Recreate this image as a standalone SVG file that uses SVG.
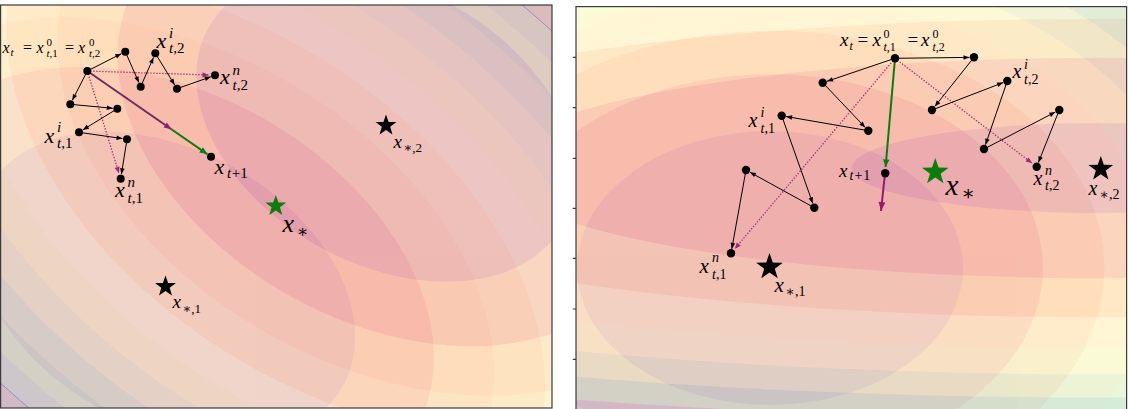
<svg xmlns="http://www.w3.org/2000/svg" xmlns:xlink="http://www.w3.org/1999/xlink" width="1128" height="409" viewBox="0 0 1128 409">
<defs>
<style>
.fr{fill:none;stroke:#3a3a3a;stroke-width:1.2}
.blk{stroke:#000;stroke-width:1;fill:none;marker-end:url(#ab)}
.dt{stroke:#9a2777;stroke-width:1.3;stroke-dasharray:1.3 1.7;fill:none;marker-end:url(#am)}
.mi{font-family:"Liberation Serif","DejaVu Serif",serif;font-style:italic;fill:#000}
.up{font-style:normal}
.ast{font-family:"DejaVu Serif",serif;font-style:normal}
.fam{opacity:0.25}
</style>
<clipPath id="cL"><rect x="0.6" y="5" width="551.4" height="403"/></clipPath>
<clipPath id="cR"><rect x="576" y="6.6" width="550.6" height="403"/></clipPath>
<marker id="ab" viewBox="-7 -4 8 8" markerWidth="8" markerHeight="8" refX="0" refY="0" orient="auto" markerUnits="userSpaceOnUse"><path d="M0,0 L-6,-2.3 L-6,2.3 Z" fill="#000"/></marker>
<marker id="am" viewBox="-7 -4 8 8" markerWidth="8" markerHeight="8" refX="0" refY="0" orient="auto" markerUnits="userSpaceOnUse"><path d="M0,0 L-6,-2.6 L-6,2.6 Z" fill="#9a2777"/></marker>
<marker id="ap" viewBox="-9 -5 10 10" markerWidth="10" markerHeight="10" refX="0" refY="0" orient="auto" markerUnits="userSpaceOnUse"><path d="M0,0 L-7.5,-3 L-7.5,3 Z" fill="#8a2470"/></marker>
<marker id="ag" viewBox="-9 -5 10 10" markerWidth="10" markerHeight="10" refX="0" refY="0" orient="auto" markerUnits="userSpaceOnUse"><path d="M0,0 L-7.5,-3.2 L-7.5,3.2 Z" fill="#0a7d0a"/></marker>
<marker id="amr" viewBox="-11 -5 12 10" markerWidth="12" markerHeight="10" refX="0" refY="0" orient="auto" markerUnits="userSpaceOnUse"><path d="M0,0 L-9,-3.4 L-9,3.4 Z" fill="#961a6d"/></marker>
<path id="star" d="M0,-1 L0.2351,-0.3236 L0.9511,-0.309 L0.3804,0.1236 L0.5878,0.809 L0,0.4 L-0.5878,0.809 L-0.3804,0.1236 L-0.9511,-0.309 L-0.2351,-0.3236 Z"/>
<g id="ringsL" transform="rotate(29)">
<ellipse rx="641.9" ry="436.4" fill="#4a94b8"/>
<ellipse rx="609" ry="414" fill="#66bcaa"/>
<ellipse rx="574.2" ry="390.3" fill="#94d2a6"/>
<ellipse rx="537.1" ry="365.1" fill="#c2e6a2"/>
<ellipse rx="497.2" ry="338" fill="#e8f6a0"/>
<ellipse rx="453.9" ry="308.6" fill="#f8fbb8"/>
<ellipse rx="406" ry="276" fill="#fdd282"/>
<ellipse rx="351.6" ry="239" fill="#fdb466"/>
<ellipse rx="287.1" ry="195.2" fill="#f06744"/>
<ellipse rx="203" ry="138" fill="#c02749"/>
</g>
<g id="ringsR1">
<ellipse rx="510.6" ry="362.5" fill="#60bba8"/>
<ellipse rx="472.7" ry="335.6" fill="#b2e0a2"/>
<ellipse rx="431.6" ry="306.3" fill="#eff9a7"/>
<ellipse rx="386" ry="274" fill="#feec9f"/>
<ellipse rx="334.3" ry="237.3" fill="#fdb466"/>
<ellipse rx="272.9" ry="193.7" fill="#f06744"/>
<ellipse rx="193" ry="137" fill="#c02749"/>
</g>
<g id="ringsR2">
<ellipse rx="1380.8" ry="250.6" fill="#60bba8"/>
<ellipse rx="1264.6" ry="229.5" fill="#b2e0a2"/>
<ellipse rx="1136.5" ry="206.2" fill="#eff9a7"/>
<ellipse rx="992" ry="180" fill="#feec9f"/>
<ellipse rx="822.6" ry="149.3" fill="#fdb466"/>
<ellipse rx="607.4" ry="110.2" fill="#f06744"/>
<ellipse rx="248" ry="45" fill="#c02749"/>
</g>
</defs>

<!-- left panel background -->
<g id="bgL" clip-path="url(#cL)">
<rect x="0" y="0" width="556" height="409" fill="#fff"/>
<g class="fam"><rect x="0" y="0" width="556" height="409" fill="#5a5fa8"/><use xlink:href="#ringsL" transform="translate(165.5 287.3)"/></g>
<g class="fam"><rect x="0" y="0" width="556" height="409" fill="#5a5fa8"/><use xlink:href="#ringsL" transform="translate(386 126)"/></g>
<g fill="none" stroke="#7b6cc4" stroke-width="0.8" opacity="0.7">
<ellipse rx="641.9" ry="436.4" transform="translate(165.5 287.3) rotate(29)"/>
<ellipse rx="641.9" ry="436.4" transform="translate(386 126) rotate(29)"/>
</g>
</g>
<rect class="fr" x="0.6" y="5" width="551.4" height="403"/>

<!-- right panel background -->
<g id="bgR" clip-path="url(#cR)">
<rect x="576" y="0" width="552" height="409" fill="#fff"/>
<g class="fam"><rect x="576" y="0" width="552" height="409" fill="#4a6cb0"/><use xlink:href="#ringsR1" transform="translate(770 268)"/></g>
<g class="fam"><rect x="576" y="0" width="552" height="409" fill="#5a58a6"/><use xlink:href="#ringsR2" transform="translate(1100 168)"/></g>
</g>
<rect class="fr" x="576" y="6.6" width="550.6" height="410"/>
<path class="fr" d="M572.8 57.3H576M572.8 107.7H576M572.8 158.3H576M572.8 208.3H576M572.8 258.3H576M572.8 309H576M572.8 359.3H576"/>

<!-- connectors -->
<g id="connectors">
<line class="dt" x1="87.3" y1="71" x2="208.5" y2="75"/>
<line class="dt" x1="87.3" y1="71" x2="118.9" y2="173"/>
<line class="blk" x1="87.3" y1="71" x2="121.3" y2="53.7"/>
<line class="blk" x1="125.3" y1="51.7" x2="138.9" y2="82.6"/>
<line class="blk" x1="140.7" y1="86.7" x2="153.5" y2="57.4"/>
<line class="blk" x1="155.3" y1="53.3" x2="174.6" y2="84.9"/>
<line class="blk" x1="177" y1="88.7" x2="210.8" y2="76.8"/>
<line class="blk" x1="87.3" y1="71" x2="72.3" y2="100.3"/>
<line class="blk" x1="70.3" y1="104.3" x2="112.8" y2="108.3"/>
<line class="blk" x1="117.3" y1="108.7" x2="82.8" y2="129.9"/>
<line class="blk" x1="79" y1="132.3" x2="122.5" y2="138.6"/>
<line class="blk" x1="127" y1="139.3" x2="121.4" y2="174.3"/>
<line x1="87.3" y1="71" x2="171.4" y2="129.3" stroke="#6e2a5c" stroke-width="2" marker-end="url(#ap)"/>
<line x1="171.4" y1="129.3" x2="207.3" y2="154.1" stroke="#0a7d0a" stroke-width="2" marker-end="url(#ag)"/>
<line class="dt" x1="895" y1="58.3" x2="734.9" y2="248.7"/>
<line class="dt" x1="895" y1="58.3" x2="1031.9" y2="163.1"/>
<line class="blk" x1="895" y1="58.3" x2="969.5" y2="57.4"/>
<line class="blk" x1="974" y1="57.3" x2="934.8" y2="106.5"/>
<line class="blk" x1="932" y1="110" x2="1003.1" y2="82.6"/>
<line class="blk" x1="1007.3" y1="81" x2="985.5" y2="144.7"/>
<line class="blk" x1="984" y1="149" x2="1055.3" y2="112.1"/>
<line class="blk" x1="1059.3" y1="110" x2="1038.4" y2="162.5"/>
<line class="blk" x1="895" y1="58.3" x2="827" y2="81.3"/>
<line class="blk" x1="822.7" y1="82.7" x2="865.2" y2="127.4"/>
<line class="blk" x1="868.3" y1="130.7" x2="786.1" y2="116.5"/>
<line class="blk" x1="781.7" y1="115.7" x2="812.8" y2="203.5"/>
<line class="blk" x1="814.3" y1="207.7" x2="749.9" y2="172.2"/>
<line class="blk" x1="746" y1="170" x2="731.8" y2="248.9"/>
<line x1="895" y1="58.3" x2="885.6" y2="167" stroke="#0a7d0a" stroke-width="2" marker-end="url(#ag)"/>
<line x1="885" y1="173.3" x2="881" y2="211" stroke="#961a6d" stroke-width="2" marker-end="url(#amr)"/>
</g>

<!-- left panel nodes -->
<g id="L-xt"><circle cx="87.3" cy="71" r="4"/>
<text class="mi" font-size="16"><tspan x="2.5" y="52.5">x</tspan><tspan x="10.5" y="55.5" font-size="11">t</tspan><tspan class="up" x="23" y="52.5">=</tspan><tspan x="36.5" y="52.5">x</tspan><tspan class="up" x="46.5" y="45.5" font-size="11">0</tspan><tspan x="46.5" y="57" font-size="11">t<tspan class="up">,1</tspan></tspan><tspan class="up" x="65" y="52.5">=</tspan><tspan x="78" y="52.5">x</tspan><tspan class="up" x="89" y="45.5" font-size="11">0</tspan><tspan x="89" y="57" font-size="11">t<tspan class="up">,2</tspan></tspan></text></g>
<g id="L-a"><circle cx="125.3" cy="51.7" r="4"/></g>
<g id="L-b"><circle cx="140.7" cy="86.7" r="4"/></g>
<g id="L-xi2"><circle cx="155.3" cy="53.3" r="4"/>
<text class="mi" font-size="22"><tspan x="156.5" y="48">x</tspan><tspan x="169" y="37.5" font-size="15">i</tspan><tspan x="169" y="53" font-size="15">t<tspan class="up">,2</tspan></tspan></text></g>
<g id="L-d"><circle cx="177" cy="88.7" r="4"/></g>
<g id="L-xn2"><circle cx="215" cy="75.3" r="4"/>
<text class="mi" font-size="22"><tspan x="220" y="84">x</tspan><tspan x="232.5" y="74.5" font-size="15">n</tspan><tspan x="232.5" y="90" font-size="15">t<tspan class="up">,2</tspan></tspan></text></g>
<g id="L-f"><circle cx="70.3" cy="104.3" r="4"/></g>
<g id="L-g"><circle cx="117.3" cy="108.7" r="4"/></g>
<g id="L-xi1"><circle cx="79" cy="132.3" r="4"/>
<text class="mi" font-size="22"><tspan x="44.5" y="142.5">x</tspan><tspan x="57" y="132" font-size="15">i</tspan><tspan x="57" y="148" font-size="15">t<tspan class="up">,1</tspan></tspan></text></g>
<g id="L-i"><circle cx="127" cy="139.3" r="4"/></g>
<g id="L-xn1"><circle cx="120.7" cy="178.7" r="4"/>
<text class="mi" font-size="22"><tspan x="115" y="196.5">x</tspan><tspan x="127.5" y="187" font-size="15">n</tspan><tspan x="127.5" y="202.5" font-size="15">t<tspan class="up">,1</tspan></tspan></text></g>
<g id="L-xt1"><circle cx="211" cy="156.7" r="4"/>
<text class="mi" font-size="22"><tspan x="214.5" y="174">x</tspan><tspan x="227" y="178" font-size="15">t<tspan class="up" dx="0.5">+1</tspan></tspan></text></g>
<g id="L-xstar"><use xlink:href="#star" transform="translate(275.8 206) scale(11)" fill="#0a7d0a"/>
<text class="mi" font-size="26"><tspan x="282.5" y="231.5">x</tspan><tspan class="ast" x="297" y="237" font-size="17">∗</tspan></text></g>
<g id="L-xs1"><use xlink:href="#star" transform="translate(165.5 286.5) scale(11)" fill="#000"/>
<text class="mi" font-size="19"><tspan x="172.5" y="308">x</tspan><tspan x="182.5" y="312.5" font-size="13"><tspan class="ast">∗</tspan><tspan class="up">,1</tspan></tspan></text></g>
<g id="L-xs2"><use xlink:href="#star" transform="translate(386 125.5) scale(11)" fill="#000"/>
<text class="mi" font-size="19"><tspan x="393.5" y="148">x</tspan><tspan x="403.5" y="152" font-size="13"><tspan class="ast">∗</tspan><tspan class="up">,2</tspan></tspan></text></g>

<!-- right panel nodes -->
<g id="R-xt"><circle cx="895" cy="58.3" r="4.2"/>
<text class="mi" font-size="19"><tspan x="840" y="46">x</tspan><tspan x="849.5" y="49.5" font-size="12">t</tspan><tspan class="up" x="857.5" y="46">=</tspan><tspan x="872.5" y="46">x</tspan><tspan class="up" x="883.5" y="37.5" font-size="12">0</tspan><tspan x="883.5" y="50.5" font-size="12">t<tspan class="up">,1</tspan></tspan><tspan class="up" x="907.5" y="46">=</tspan><tspan x="921" y="46">x</tspan><tspan class="up" x="932.5" y="37.5" font-size="12">0</tspan><tspan x="932.5" y="50.5" font-size="12">t<tspan class="up">,2</tspan></tspan></text></g>
<g id="R-p"><circle cx="974" cy="57.3" r="4.2"/></g>
<g id="R-q"><circle cx="932" cy="110" r="4.2"/></g>
<g id="R-xi2"><circle cx="1007.3" cy="81" r="4.2"/>
<text class="mi" font-size="20"><tspan x="1012.5" y="77.5">x</tspan><tspan x="1024" y="68.5" font-size="14">i</tspan><tspan x="1024" y="83.5" font-size="14">t<tspan class="up">,2</tspan></tspan></text></g>
<g id="R-s"><circle cx="984" cy="149" r="4.2"/></g>
<g id="R-t"><circle cx="1059.3" cy="110" r="4.2"/></g>
<g id="R-xn2"><circle cx="1036.7" cy="166.7" r="4.2"/>
<text class="mi" font-size="20"><tspan x="1033.5" y="184.5">x</tspan><tspan x="1045" y="175" font-size="14">n</tspan><tspan x="1045" y="189.5" font-size="14">t<tspan class="up">,2</tspan></tspan></text></g>
<g id="R-k"><circle cx="822.7" cy="82.7" r="4.2"/></g>
<g id="R-l"><circle cx="868.3" cy="130.7" r="4.2"/></g>
<g id="R-xi1"><circle cx="781.7" cy="115.7" r="4.2"/>
<text class="mi" font-size="20"><tspan x="748.5" y="127">x</tspan><tspan x="760.5" y="116.5" font-size="14">i</tspan><tspan x="760.5" y="132.5" font-size="14">t<tspan class="up">,1</tspan></tspan></text></g>
<g id="R-n"><circle cx="814.3" cy="207.7" r="4.2"/></g>
<g id="R-o"><circle cx="746" cy="170" r="4.2"/></g>
<g id="R-xn1"><circle cx="731" cy="253.3" r="4.2"/>
<text class="mi" font-size="21"><tspan x="699.5" y="273">x</tspan><tspan x="712" y="262" font-size="14">n</tspan><tspan x="712" y="278.5" font-size="14">t<tspan class="up">,1</tspan></tspan></text></g>
<g id="R-xt1"><circle cx="885.2" cy="173.3" r="4.2"/>
<text class="mi" font-size="19"><tspan x="839" y="176.5">x</tspan><tspan x="849.5" y="180" font-size="14">t<tspan class="up" dx="1">+</tspan><tspan class="up" dx="1">1</tspan></tspan></text></g>
<g id="R-xstar"><use xlink:href="#star" transform="translate(935.3 172) scale(14)" fill="#0a7d0a"/>
<text class="mi" font-size="29"><tspan x="945.5" y="195">x</tspan><tspan class="ast" x="961.5" y="200" font-size="20">∗</tspan></text></g>
<g id="R-xs1"><use xlink:href="#star" transform="translate(769.5 267) scale(14)" fill="#000"/>
<text class="mi" font-size="21"><tspan x="774.5" y="291.5">x</tspan><tspan x="785.5" y="295.5" font-size="14"><tspan class="ast">∗</tspan><tspan class="up">,1</tspan></tspan></text></g>
<g id="R-xs2"><use xlink:href="#star" transform="translate(1100.8 169) scale(13)" fill="#000"/>
<text class="mi" font-size="20"><tspan x="1088.5" y="195">x</tspan><tspan x="1099.5" y="198.5" font-size="14"><tspan class="ast">∗</tspan><tspan class="up">,2</tspan></tspan></text></g>
</svg>
